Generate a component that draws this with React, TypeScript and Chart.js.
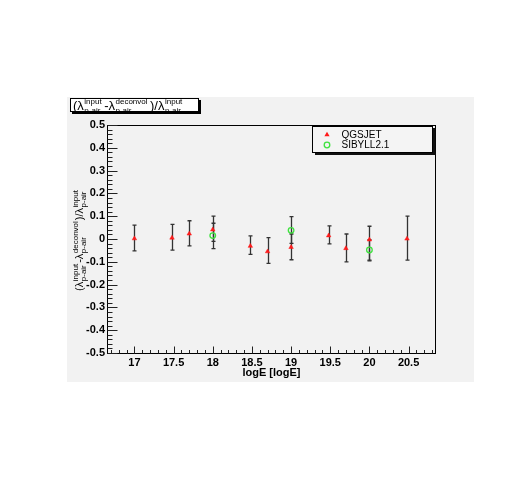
import React, { useEffect, useRef } from 'react';
import { Chart, registerables } from 'chart.js';

Chart.register(...registerables);

// ---- data ----
const qgsX = [17, 17.48, 17.7, 18, 18.48, 18.7, 19, 19.48, 19.7, 20, 20.48];
const qgsY = [0.002, 0.005, 0.023, 0.041, -0.031, -0.055, -0.036, 0.015, -0.041, -0.003, 0.001];
const qgsHi = [0.061, 0.064, 0.08, 0.1, 0.014, 0.006, 0.022, 0.058, 0.022, 0.056, 0.1];
const qgsLo = [-0.052, -0.049, -0.03, -0.01, -0.067, -0.107, -0.091, -0.021, -0.1, -0.096, -0.093];

const sibX = [18, 19, 20];
const sibY = [0.015, 0.038, -0.048];
const sibHi = [0.069, 0.098, -0.003];
const sibLo = [-0.042, -0.019, -0.093];

const xTicks = [17, 17.5, 18, 18.5, 19, 19.5, 20, 20.5];
const xTickLabels = ['17', '17.5', '18', '18.5', '19', '19.5', '20', '20.5'];
const yTicks = [-0.5, -0.4, -0.3, -0.2, -0.1, 0, 0.1, 0.2, 0.3, 0.4, 0.5];
const yTickLabels = ['-0.5', '-0.4', '-0.3', '-0.2', '-0.1', '0', '0.1', '0.2', '0.3', '0.4', '0.5'];

const xTitle = 'logE [logE]';
const seriesNames = ['QGSJET', 'SIBYLL2.1'];

type Part = { t: string } | { sup: string; sub: string };
const formula: Part[] = [
  { t: '(\u03bb' },
  { sup: 'input', sub: 'p-air' },
  { t: '-\u03bb' },
  { sup: 'deconvol', sub: 'p-air' },
  { t: ')/\u03bb' },
  { sup: 'input', sub: 'p-air' },
];

const FAMILY = '"Liberation Sans", Arial, Helvetica, sans-serif';
const RED = '#ff1a1a';
const GREEN = '#3fe23f';

function drawFormula(
  ctx: CanvasRenderingContext2D,
  x: number,
  y: number,
  parts: Part[],
  mainPx: number,
  scriptPx: number,
  rise: number,
  drop: number,
  gap: number,
  center: boolean
) {
  const mainFont = `${mainPx}px ${FAMILY}`;
  const scriptFont = `${scriptPx}px ${FAMILY}`;
  const widths = parts.map((p) => {
    if ('t' in p) {
      ctx.font = mainFont;
      return ctx.measureText(p.t).width;
    }
    ctx.font = scriptFont;
    return Math.max(ctx.measureText(p.sup).width, ctx.measureText(p.sub).width) + gap;
  });
  const total = widths.reduce((a, b) => a + b, 0);
  let cx = center ? x - total / 2 : x;
  ctx.textAlign = 'left';
  ctx.textBaseline = 'alphabetic';
  ctx.fillStyle = '#000';
  parts.forEach((p, i) => {
    if ('t' in p) {
      ctx.font = mainFont;
      ctx.fillText(p.t, cx, y);
    } else {
      ctx.font = scriptFont;
      ctx.fillText(p.sup, cx + 0.5, y - rise);
      ctx.fillText(p.sub, cx + 0.5, y + drop);
    }
    cx += widths[i];
  });
}

function drawMarker(ctx: CanvasRenderingContext2D, kind: string, x: number, y: number) {
  ctx.save();
  if (kind === 'triangle') {
    ctx.fillStyle = RED;
    ctx.beginPath();
    ctx.moveTo(x, y - 2.8);
    ctx.lineTo(x + 2.6, y + 1.8);
    ctx.lineTo(x - 2.6, y + 1.8);
    ctx.closePath();
    ctx.fill();
  } else {
    ctx.strokeStyle = GREEN;
    ctx.lineWidth = 1.3;
    ctx.beginPath();
    ctx.arc(x, y, 2.8, 0, Math.PI * 2);
    ctx.stroke();
  }
  ctx.restore();
}

const rootPlugin = {
  id: 'rootStyle',
  beforeDraw(chart: any) {
    const ctx: CanvasRenderingContext2D = chart.ctx;
    ctx.save();
    ctx.fillStyle = '#ffffff';
    ctx.fillRect(0, 0, chart.width, chart.height);
    ctx.fillStyle = '#f2f2f2';
    ctx.fillRect(67, 97, 407, 285);
    ctx.restore();
  },
  beforeDatasetsDraw(chart: any) {
    const ctx: CanvasRenderingContext2D = chart.ctx;
    const xs = chart.scales.x;
    const ys = chart.scales.y;
    ctx.save();
    ctx.strokeStyle = '#333';
    ctx.lineWidth = 1.3;
    chart.data.datasets.forEach((ds: any) => {
      ds.data.forEach((pt: any, j: number) => {
        const px = Math.round(xs.getPixelForValue(pt.x)) + 0.5;
        const pHi = ys.getPixelForValue(ds.errHi[j]);
        const pLo = ys.getPixelForValue(ds.errLo[j]);
        ctx.beginPath();
        ctx.moveTo(px, pHi);
        ctx.lineTo(px, pLo);
        ctx.moveTo(px - 2, pHi);
        ctx.lineTo(px + 2, pHi);
        ctx.moveTo(px - 2, pLo);
        ctx.lineTo(px + 2, pLo);
        ctx.stroke();
      });
    });
    ctx.restore();
  },
  afterDraw(chart: any) {
    const ctx: CanvasRenderingContext2D = chart.ctx;
    const xs = chart.scales.x;
    const ys = chart.scales.y;
    const a = chart.chartArea;
    ctx.save();
    // frame
    ctx.strokeStyle = '#000';
    ctx.lineWidth = 1;
    ctx.strokeRect(Math.round(a.left) + 0.5, Math.round(a.top) + 0.5, Math.round(a.right - a.left) - 1, Math.round(a.bottom - a.top));

    // ticks
    ctx.strokeStyle = '#222';
    ctx.beginPath();
    const bottom = Math.round(a.bottom) + 0.5;
    for (let k = 0; k <= 50; k++) {
      const v = 16.5 + k * 0.1;
      if (v < xs.min - 1e-9 || v > xs.max + 1e-9) continue;
      const major = Math.abs(v * 2 - Math.round(v * 2)) < 1e-6;
      const px = Math.round(xs.getPixelForValue(v)) + 0.5;
      ctx.moveTo(px, bottom);
      ctx.lineTo(px, bottom - (major ? 7 : 3.5));
    }
    const left = Math.round(a.left) + 0.5;
    for (let k = 0; k <= 50; k++) {
      const v = -0.5 + k * 0.02;
      const major = k % 5 === 0;
      const py = Math.round(ys.getPixelForValue(v)) + 0.5;
      ctx.moveTo(left, py);
      ctx.lineTo(left + (major ? 10 : 5), py);
    }
    ctx.stroke();

    // title box (top-left)
    ctx.fillStyle = '#ffffff';
    ctx.fillRect(70, 98, 129, 14);
    ctx.strokeStyle = '#000';
    ctx.strokeRect(70.5, 98.5, 128, 13);
    ctx.save();
    ctx.beginPath();
    ctx.rect(71, 99, 127, 12);
    ctx.clip();
    drawFormula(ctx, 73, 109.5, formula, 13, 8, 5.5, 3.5, 3, false);
    ctx.restore();
    ctx.fillStyle = '#000';
    ctx.fillRect(72, 112, 129, 2);
    ctx.fillRect(199, 100, 2, 14);

    // y axis title (rotated)
    ctx.save();
    ctx.translate(82.5, 240);
    ctx.rotate(-Math.PI / 2);
    drawFormula(ctx, 0, 0, formula, 11, 8, 4.5, 3.5, 1.5, true);
    ctx.restore();

    // legend
    ctx.fillStyle = '#f4f4f4';
    ctx.fillRect(313, 126, 120, 27);
    ctx.strokeStyle = '#000';
    ctx.strokeRect(312.5, 126.5, 120, 26);
    ctx.fillStyle = '#111';
    ctx.fillRect(433, 128, 2.5, 27);
    ctx.fillRect(315, 153, 120.5, 2);
    const styles = ['triangle', 'circle'];
    const rows = [134.5, 145];
    chart.data.datasets.forEach((ds: any, i: number) => {
      drawMarker(ctx, styles[i], 327, rows[i]);
      ctx.fillStyle = '#000';
      ctx.font = `10px ${FAMILY}`;
      ctx.textAlign = 'left';
      ctx.textBaseline = 'middle';
      ctx.fillText(ds.label, 341.5, rows[i] + 0.5);
    });
    ctx.restore();
  },
};

export default function App() {
  const ref = useRef<HTMLCanvasElement | null>(null);
  useEffect(() => {
    if (!ref.current) return;
    const tickFont = { family: FAMILY, size: 11, weight: 'bold' as const };
    const chart = new Chart(ref.current, {
      type: 'scatter',
      data: {
        datasets: [
          {
            label: seriesNames[0],
            data: qgsX.map((x, i) => ({ x, y: qgsY[i] })),
            errHi: qgsHi,
            errLo: qgsLo,
            pointStyle: 'triangle',
            radius: 2.6,
            backgroundColor: RED,
            borderColor: RED,
            borderWidth: 0.5,
            showLine: false,
          } as any,
          {
            label: seriesNames[1],
            data: sibX.map((x, i) => ({ x, y: sibY[i] })),
            errHi: sibHi,
            errLo: sibLo,
            pointStyle: 'circle',
            radius: 2.8,
            backgroundColor: 'rgba(0,0,0,0)',
            borderColor: GREEN,
            borderWidth: 1.3,
            showLine: false,
          } as any,
        ],
      },
      options: {
        animation: false,
        responsive: false,
        devicePixelRatio: 1,
        events: [],
        layout: { padding: { left: 67, right: 90, top: 125, bottom: 95 } },
        plugins: {
          legend: { display: false },
          tooltip: { enabled: false },
          title: { display: false },
        },
        scales: {
          x: {
            type: 'linear',
            min: 16.65,
            max: 20.85,
            grid: { display: false, drawTicks: false },
            border: { display: false },
            afterBuildTicks: (s: any) => {
              s.ticks = xTicks.map((v) => ({ value: v }));
            },
            afterFit: (s: any) => {
              s.height = 30;
            },
            ticks: {
              autoSkip: false,
              maxRotation: 0,
              padding: 3,
              color: '#000',
              font: tickFont,
              callback: (v: any) => xTickLabels[xTicks.indexOf(Number(v))] ?? '',
            },
            title: {
              display: true,
              text: xTitle,
              color: '#000',
              font: { family: FAMILY, size: 11, weight: 'bold' },
              padding: { top: 0, bottom: 3 },
            },
          },
          y: {
            type: 'linear',
            min: -0.5,
            max: 0.5,
            grid: { display: false, drawTicks: false },
            border: { display: false },
            afterBuildTicks: (s: any) => {
              s.ticks = yTicks.map((v) => ({ value: v }));
            },
            afterFit: (s: any) => {
              s.width = 40;
            },
            ticks: {
              autoSkip: false,
              padding: 2,
              color: '#000',
              font: tickFont,
              callback: (v: any) => {
                const idx = yTicks.findIndex((t) => Math.abs(t - Number(v)) < 1e-9);
                return idx >= 0 ? yTickLabels[idx] : '';
              },
            },
          },
        },
      } as any,
      plugins: [rootPlugin],
    });
    return () => chart.destroy();
  }, []);
  return (
    <div style={{ position: 'absolute', left: 0, top: 0, width: 526, height: 478 }}>
      <canvas ref={ref} width={526} height={478} style={{ display: 'block', width: 526, height: 478 }} />
    </div>
  );
}
